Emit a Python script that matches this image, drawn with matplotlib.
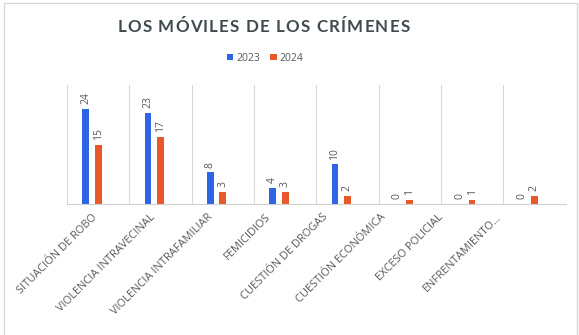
import matplotlib
matplotlib.use("Agg")
import matplotlib.pyplot as plt
import numpy as np
from matplotlib.patches import Rectangle
import matplotlib.transforms as mtransforms

categories = ["SITUACIÓN DE ROBO", "VIOLENCIA INTRAVECINAL", "VIOLENCIA INTRAFAMILIAR",
              "FEMICIDIOS", "CUESTIÓN DE DROGAS", "CUESTIÓN ECONÓMICA",
              "EXCESO POLICIAL", "ENFRENTAMIENTO..."]
values_2023 = [24, 23, 8, 4, 10, 0, 0, 0]
values_2024 = [15, 17, 3, 3, 2, 1, 1, 2]
series_names = ["2023", "2024"]
title = "LOS MÓVILES DE LOS CRÍMENES"

blue = "#2E64E6"
orange = "#E8582A"
gray_text = "#595959"

plt.rcParams['font.family'] = ['Open Sans', 'DejaVu Sans']

fig = plt.figure(figsize=(5.79, 3.35), dpi=100)
fig.patches.append(Rectangle((0.007, -0.01), 0.99, 1.0, transform=fig.transFigure,
                             fill=False, edgecolor="#d9d9d9", linewidth=1.0))
ax = fig.add_axes([0.1157, 0.391, 0.861, 0.355])

x = np.arange(len(categories))
w = 0.11
off = 0.2
b1 = ax.bar(x - off, values_2023, w, color=blue, label=series_names[0])
b2 = ax.bar(x, values_2024, w, color=orange, label=series_names[1])

for rects, vals in ((b1, values_2023), (b2, values_2024)):
    for r, v in zip(rects, vals):
        ax.text(r.get_x() + r.get_width() / 2, v + 1.2, str(v), rotation=90,
                ha="center", va="bottom", fontsize=7.5, color=gray_text)

ax.set_xlim(-0.5, len(categories) - 0.5)
ax.set_ylim(0, 30)
for b in np.arange(-0.5, len(categories), 1.0):
    ax.axvline(b, color="#d9d9d9", linewidth=0.8, zorder=0)
for s in ["top", "right", "left"]:
    ax.spines[s].set_visible(False)
ax.spines["bottom"].set_color("#d0d0d0")
ax.set_yticks([])
ax.set_xticks(x)
ax.set_xticklabels([])
ax.tick_params(axis="x", length=0)

# category labels (rotated, slightly compressed spacing as in the reference)
trans = mtransforms.blended_transform_factory(ax.transData, ax.transAxes)
for i, lab in enumerate(categories):
    ax.text(-0.098 + 0.925 * i, -0.065, lab, rotation=45, ha="right", va="top",
            rotation_mode="anchor", fontsize=7.9, color=gray_text, transform=trans,
            clip_on=False)

# letter-spaced title
renderer = fig.canvas.get_renderer()
tkw = dict(fontsize=12.2, fontweight="bold", color="#3F4A4F", va="center", ha="left",
           family=["Lato", "DejaVu Sans"])

def wpx(s):
    t = fig.text(0, 0, s, **tkw)
    wd = t.get_window_extent(renderer).width
    t.remove()
    return wd

sentinel = "I"
ws = wpx(sentinel)
pos = [0.0] + [wpx(title[:k] + sentinel) - ws for k in range(1, len(title))]
target_width = 292.0
spacing = max(0.0, (target_width - wpx(title)) / (len(title) - 1))
total = wpx(title) + spacing * (len(title) - 1)
cx = 0.455 * fig.bbox.width
left = cx - total / 2
for k, ch in enumerate(title):
    if ch == " ":
        continue
    fig.text((left + pos[k] + spacing * k) / fig.bbox.width, 0.918, ch, **tkw)

leg = fig.legend(handles=[b1, b2], labels=series_names, loc="center",
                 bbox_to_anchor=(0.458, 0.826), ncol=2, frameon=False,
                 fontsize=7.5, handlelength=0.6, handleheight=0.6,
                 columnspacing=1.0, handletextpad=0.3)
for t in leg.get_texts():
    t.set_color(gray_text)

fig.savefig("out.png", dpi=100)
